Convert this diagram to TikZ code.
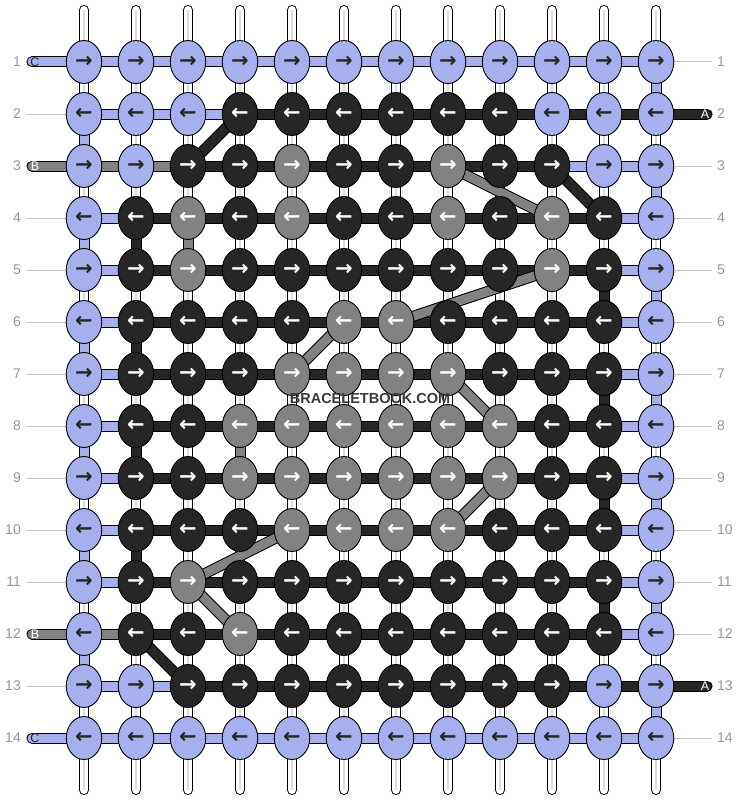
\documentclass[tikz,border=0pt]{standalone}
\usepackage{fontspec}
\setmainfont{Liberation Sans}
\newfontfamily\arrowfont{DejaVu Sans}
\usetikzlibrary{shapes.geometric}

\definecolor{fB}{RGB}{166,176,238}
\definecolor{fK}{RGB}{38,38,38}
\definecolor{fG}{RGB}{130,130,130}
\colorlet{tB}{black!85}
\colorlet{tK}{white}
\colorlet{tG}{white}
\definecolor{numgray}{RGB}{150,150,150}
\definecolor{guidegray}{RGB}{195,195,195}

\pgfdeclarelayer{warp}
\pgfdeclarelayer{seg}
\pgfsetlayers{warp,seg,main}

\tikzset{
    knot/.style = {ellipse, draw=black, line width=0.9pt, minimum width=35.5pt, minimum height=43pt,
                   inner sep=0pt, font=\arrowfont\bfseries\fontsize{21}{21}\selectfont},
    seg/.style = {draw=#1, line width=9pt, preaction={draw=black, line width=11pt}},
    tail/.style = {draw=#1, line width=9pt, line cap=round,
                   preaction={draw=black, line width=11pt, line cap=round}},
    warp/.style = {draw=white, line width=8pt, line cap=round,
                   preaction={draw=black, line width=10pt, line cap=round}},
    warpmid/.style = {draw=black!14, line width=2.5pt},
    guide/.style = {draw=guidegray, line width=1pt},
    rownum/.style = {text=numgray, font=\fontsize{14}{14}\selectfont, inner sep=0pt},
    taillab/.style = {font=\fontsize{12.5}{12.5}\selectfont, inner sep=0pt},
    watermark/.style = {text=black!78, font=\bfseries\fontsize{14.5}{14.5}\selectfont, inner sep=1pt}
}

\begin{document}
\begin{tikzpicture}[x=1pt, y=-1pt]

    \useasboundingbox (0,0) rectangle (740,800);

    % knots, row by row (odd rows go right, even rows go left)
    \foreach \row [count=\r] in {
        {B,B,B,B,B,B,B,B,B,B,B,B},
        {B,B,B,K,K,K,K,K,K,B,B,B},
        {B,B,K,K,G,K,K,G,K,K,B,B},
        {B,K,G,K,G,K,K,G,K,G,K,B},
        {B,K,G,K,K,K,K,K,K,G,K,B},
        {B,K,K,K,K,G,G,K,K,K,K,B},
        {B,K,K,K,G,G,G,G,K,K,K,B},
        {B,K,K,G,G,G,G,G,G,K,K,B},
        {B,K,K,G,G,G,G,G,G,K,K,B},
        {B,K,K,K,G,G,G,G,K,K,K,B},
        {B,K,G,K,K,K,K,K,K,K,K,B},
        {B,K,K,G,K,K,K,K,K,K,K,B},
        {B,B,K,K,K,K,K,K,K,K,B,B},
        {B,B,B,B,B,B,B,B,B,B,B,B}}{
        \foreach \k [count=\c] in \row {
            \ifodd\r\relax \def\arr{→}\else \def\arr{←}\fi
            \node[knot, fill=f\k, text=t\k] (k-\r-\c) at ({32+52*\c},{10+52*\r}) {\arr};
        }
    }

    % warp strings
    \begin{pgfonlayer}{warp}
        \foreach \c in {1,...,12} {
            \coordinate (w-t-\c) at ({32+52*\c},10);
            \coordinate (w-b-\c) at ({32+52*\c},790);
            \draw[warp] (w-t-\c) -- (w-b-\c);
            \draw[warpmid] (w-t-\c) -- (w-b-\c);
        }
    \end{pgfonlayer}

    \begin{pgfonlayer}{seg}
        % horizontal pieces between knots
        \foreach \row [count=\r] in {
            {B,B,B,B,B,B,B,B,B,B,B},
            {B,B,B,K,K,K,K,K,K,K,K},
            {G,G,K,K,K,K,K,K,K,B,B},
            {B,K,K,K,K,K,K,K,K,K,B},
            {B,K,K,K,K,K,K,K,K,K,B},
            {B,K,K,K,K,K,K,K,K,K,B},
            {B,K,K,K,K,K,K,K,K,K,B},
            {B,K,K,K,K,K,K,K,K,K,B},
            {B,K,K,K,K,K,K,K,K,K,B},
            {B,K,K,K,K,K,K,K,K,K,B},
            {B,K,K,K,K,K,K,K,K,K,B},
            {G,K,K,K,K,K,K,K,K,K,B},
            {B,B,K,K,K,K,K,K,K,K,K},
            {B,B,B,B,B,B,B,B,B,B,B}}{
            \foreach \s [count=\c] in \row {
                \pgfmathtruncatemacro\n{\c+1}
                \draw[seg=f\s] (k-\r-\c.center) -- (k-\r-\n.center);
            }
        }

        % coloured pieces between rows
        \foreach \r/\c/\s in {2/1/B, 4/1/B, 6/1/B, 8/1/B, 10/1/B, 12/1/B,
                              1/12/B, 3/12/B, 5/12/B, 7/12/B, 9/12/B, 11/12/B, 13/12/B,
                              4/2/K, 6/2/K, 8/2/K, 10/2/K, 4/3/G, 8/4/G,
                              5/11/K, 7/11/K, 9/11/K, 11/11/K} {
            \pgfmathtruncatemacro\n{\r+1}
            \draw[seg=f\s] (k-\r-\c.center) -- (k-\n-\c.center);
        }

        % diagonal carries
        \foreach \ra/\ca/\rb/\cb/\s in {2/4/3/3/K, 3/10/4/11/K, 12/2/13/3/K,
                                        3/8/4/10/G, 5/10/6/7/G, 6/6/7/5/G, 7/8/8/9/G,
                                        9/9/10/8/G, 10/5/11/3/G, 11/3/12/4/G}
            \draw[seg=f\s] (k-\ra-\ca.center) -- (k-\rb-\cb.center);

        % loose ends
        \foreach \r/\s/\lab in {1/B/C, 3/G/B, 12/G/B, 14/B/C} {
            \coordinate (t-\r) at (32,{10+52*\r});
            \draw[tail=f\s] (t-\r) -- (k-\r-1.center);
            \node[taillab, text=t\s] (tl-\r) at (35,{10+52*\r}) {\lab};
        }
        \foreach \r/\s/\lab in {2/K/A, 13/K/A} {
            \coordinate (t-\r) at (707,{10+52*\r});
            \draw[tail=f\s] (k-\r-12.center) -- (t-\r);
            \node[taillab, text=t\s] (tl-\r) at (705,{10+52*\r}) {\lab};
        }

        % guide lines to the row numbers
        \foreach \r in {2,4,5,6,7,8,9,10,11,13} {
            \coordinate (gl-\r) at (27,{10+52*\r});
            \draw[guide] (gl-\r) -- (k-\r-1.west);
        }
        \foreach \r in {1,3,4,5,6,7,8,9,10,11,12,14} {
            \coordinate (gr-\r) at (712,{10+52*\r});
            \draw[guide] (k-\r-12.east) -- (gr-\r);
        }
    \end{pgfonlayer}

    % row numbers
    \foreach \r in {1,...,14} {
        \node[rownum, anchor=east] (nl-\r) at (21,{10+52*\r}) {\r};
        \node[rownum, anchor=west] (nr-\r) at (717,{10+52*\r}) {\r};
    }

    \node[watermark] (wm) at (370,399) {BRACELETBOOK.COM};

\end{tikzpicture}
\end{document}
